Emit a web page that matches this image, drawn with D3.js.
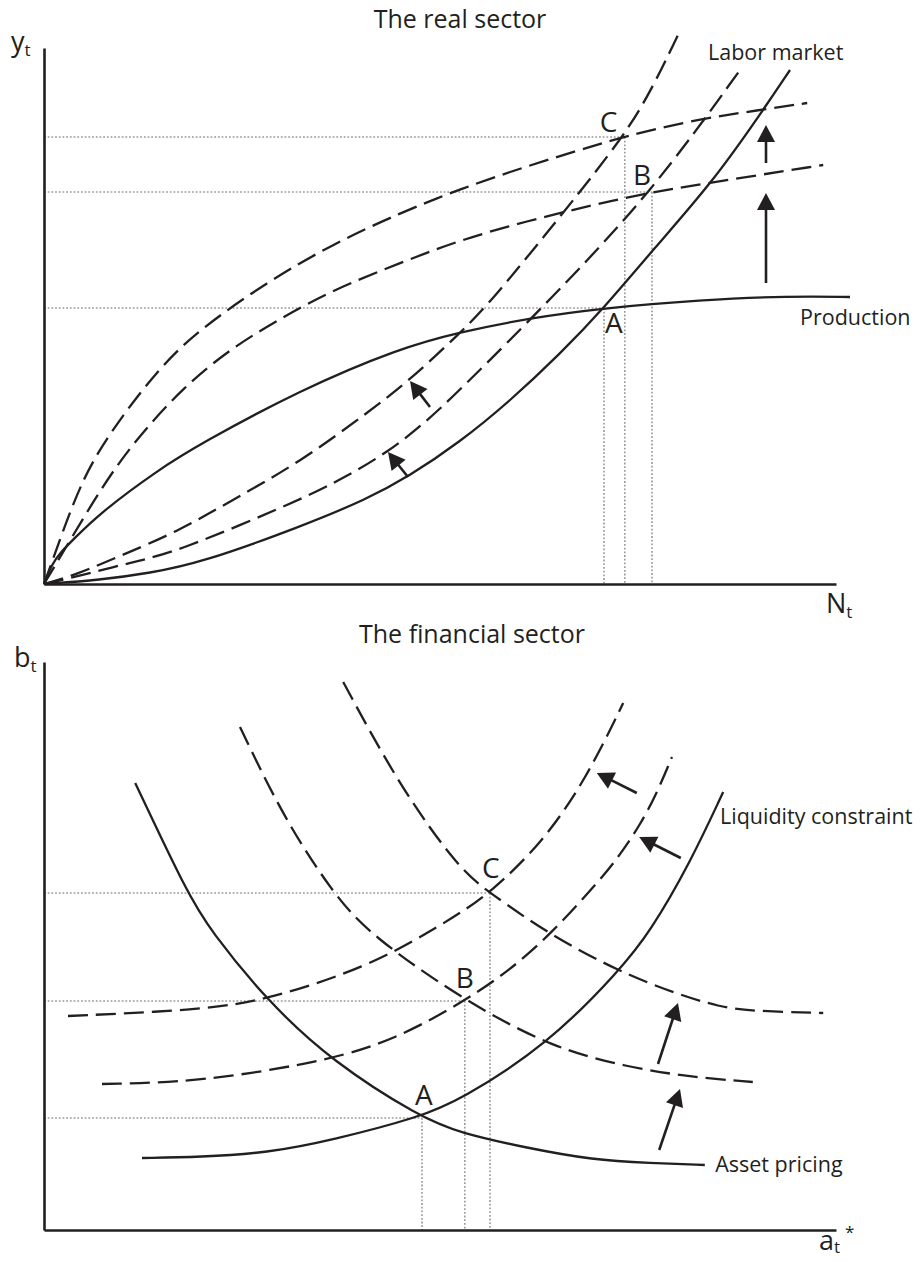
<!DOCTYPE html>
<html><head><meta charset="utf-8">
<script src="https://cdn.jsdelivr.net/npm/d3@7"></script>
<style>body{margin:0;background:#fff}svg{display:block}</style>
</head><body><svg id="c" width="923" height="1262"></svg>
<script>
// ---------- Real sector (N_t, y_t) ----------
const realTitle = "The real sector";
const productionSolid = [[0,0],[1,5],[2,7.75],[3.6,11],[7,17.75],[14.25,28.5],[19.5,35],[32,48.5],[44.5,59],[52,63],[60.75,66.5],[70,69],[82,71],[93.25,72],[100.75,71.75]];
const productionB = [[0,0],[2.4,8],[7,23.5],[11.1,35.25],[17.4,49.25],[23.6,59.25],[29.9,66.75],[36.1,73.5],[44.5,80.25],[52,86],[60.4,90.75],[68.6,94.75],[76,98],[85.4,101],[97.4,104.75]];
const productionC = [[0,0],[1.4,7.75],[4.9,27.25],[9.1,40.25],[14.5,54.25],[19.5,63.75],[27.9,75.5],[36.1,85],[44.5,92.75],[52,98.75],[60.4,104.5],[68.6,109.5],[72.4,111.75],[81.1,116],[89.5,118.5],[95.4,120.25]];
const laborSolid = [[0,0],[7,1],[13.25,2.75],[19.5,5.25],[32,14.25],[40.4,21.25],[45.5,26.75],[52,35.5],[58.25,45.75],[64.5,57.5],[70,69],[76.1,83.5],[83.6,100.5],[89.9,118.5],[93.25,128.5]];
const laborB = [[0,0],[3.9,1.75],[11.1,5.5],[16.6,8],[32,21],[37.5,26.5],[43,33],[47.6,40.25],[52,48.5],[63.25,71],[76,98],[87,128.5]];
const laborC = [[0,0],[3.9,2.25],[9.5,7],[16.6,13],[23.6,21],[32,30.5],[40.4,42.75],[45.75,51],[52,62.75],[55.75,70.25],[65.4,94],[72.4,111.75],[75.75,122.75],[79.25,137.25]];
const realEqLabels = ["A","B","C"];
const realEqN = [70, 76, 72.6];
const realEqY = [69, 98, 111.75];
const realArrows = [[[45.5,26.75],[43,33]], [[48.25,44.25],[45.75,50.75]], [[90.25,75.25],[90.25,97.75]], [[90.25,105.25],[90.25,114.75]]];
const realCurveLabels = ["Labor market","Production"];
const realCurveLabelPos = [[83,131],[94.5,64.75]];

// ---------- Financial sector (a_t*, b_t) ----------
const finTitle = "The financial sector";
const assetSolid = [[11.4,111.75],[17.9,84.25],[20.75,75],[27.9,57.25],[36.1,42],[47,28.25],[52,24.25],[60.4,20.5],[68.6,17.5],[75.75,16.75],[82.6,16.25]];
const assetB = [[24.5,125.75],[29.9,103.25],[36.1,84.25],[40.75,73.75],[52.6,57.25],[63.6,45.5],[72.9,40.75],[80.75,38.25],[88.6,37]];
const assetC = [[37.4,137],[44.5,110.75],[52,90],[55.75,84.25],[63.25,73.75],[72,64.5],[79.1,59],[84.5,55.75],[88.25,54.75],[97.4,54.25]];
const liquiditySolid = [[12.25,18],[19.5,18.25],[27.9,19.25],[36.1,22.5],[47,28.25],[52,32.5],[62.9,46.25],[72,65],[75.75,74.5],[80.75,91.75],[84.9,109.5]];
const liquidityB = [[7.25,36.5],[19.5,37],[36.1,42.5],[44.5,48.25],[52.6,57.25],[58.25,65],[63.25,73.75],[69.5,87.5],[72,93.75],[74.5,101.25],[76.5,108.75],[78.5,118.25]];
const liquidityC = [[3,53.5],[19.5,55],[27.9,57.5],[40.4,65.75],[48.6,75],[52,79.25],[55.75,84.25],[62.4,97],[67.9,113.25],[72.4,131.75]];
const finEqLabels = ["A","B","C"];
const finEqA = [47.25, 52.6, 55.75];
const finEqB = [28, 57.25, 84.25];
const finArrows = [[[74.1,109.25],[69.1,114.25]], [[79.6,93],[74.4,98.25]], [[76.75,41.5],[79.25,56.75]], [[76.9,20],[79.5,35.25]]];
const finCurveLabels = ["Liquidity constraint","Asset pricing"];
const finCurveLabelPos = [[84.5,101.5],[83.9,14.5]];

// ---------- drawing ----------
const INK = "#231f20";
const FONT = "'Open Sans', sans-serif";
const svg = d3.select("#c");
svg.append("rect").attr("width",923).attr("height",1262).attr("fill","#fff");

function panel(o){
  const x = d3.scaleLinear().domain([0,99]).range([44,836]);
  const y = d3.scaleLinear().domain([0,o.yMax]).range([o.y0, o.y0 - 4*o.yMax]);
  const g = svg.append("g");
  const line = d3.line().x(d=>x(d[0])).y(d=>y(d[1])).curve(d3.curveBasis);

  // dotted guides
  o.eqX.forEach((ex,i)=>{
    const ey = o.eqY[i];
    g.append("line").attr("x1",x(0)).attr("x2",x(ex)).attr("y1",y(ey)).attr("y2",y(ey));
    g.append("line").attr("x1",x(ex)).attr("x2",x(ex)).attr("y1",y(ey)).attr("y2",y(0));
  });
  g.selectAll("line").attr("stroke","#9a9a9a").attr("stroke-width",1.6).attr("stroke-dasharray","1.8,1.9");

  // curves
  o.curves.forEach(c=>{
    g.append("path").attr("d",line(c.data)).attr("fill","none").attr("stroke",INK)
      .attr("stroke-width",2.3).attr("stroke-dasharray",c.dashed?"20,8":null);
  });

  // arrows
  o.arrows.forEach(a=>{
    const x1=x(a[0][0]), y1=y(a[0][1]), x2=x(a[1][0]), y2=y(a[1][1]);
    const ang=Math.atan2(y2-y1,x2-x1), L=17, Wd=9;
    const bx=x2-L*Math.cos(ang), by=y2-L*Math.sin(ang);
    g.append("line").attr("x1",x1).attr("y1",y1).attr("x2",bx+2*Math.cos(ang)).attr("y2",by+2*Math.sin(ang))
      .attr("stroke",INK).attr("stroke-width",2.6);
    const p=[[x2,y2],[bx+Wd*Math.sin(ang),by-Wd*Math.cos(ang)],[bx-Wd*Math.sin(ang),by+Wd*Math.cos(ang)]];
    g.append("path").attr("d","M"+p.map(q=>q.join(",")).join("L")+"Z").attr("fill",INK);
  });

  // axes
  const ax = g.append("g").attr("transform",`translate(0,${y(0)})`).call(d3.axisBottom(x).tickValues([]).tickSizeOuter(0));
  const ay = g.append("g").attr("transform",`translate(${x(0)},0)`).call(d3.axisLeft(y).tickValues([]).tickSizeOuter(0));
  [ax,ay].forEach(a=>a.select(".domain").attr("stroke",INK).attr("stroke-width",2.6));

  // equilibrium letters
  o.eqLabels.forEach((t,i)=>{
    g.append("text").attr("x",x(o.eqX[i])+o.eqOff[i][0]).attr("y",y(o.eqY[i])+o.eqOff[i][1])
      .text(t).attr("font-size",28);
  });
  // curve labels
  o.curveLabels.forEach((t,i)=>{
    g.append("text").attr("x",x(o.curveLabelPos[i][0])).attr("y",y(o.curveLabelPos[i][1])).text(t).attr("font-size",21.5);
  });
  // title
  g.append("text").attr("x",o.titlePos[0]).attr("y",o.titlePos[1]).attr("text-anchor","middle").attr("font-size",25).text(o.title);
  // axis labels
  o.axisLabels.forEach(a=>{
    const t=g.append("text").attr("x",a.pos[0]).attr("y",a.pos[1]).attr("font-size",27);
    t.append("tspan").text(a.main);
    t.append("tspan").attr("font-size",17).attr("dy",a.sub).text("t");
    if(a.sup) g.append("text").attr("x",a.sup[0]).attr("y",a.sup[1]).attr("font-size",17).text("*");
  });
  g.selectAll("text").attr("fill",INK).attr("font-family",FONT);
}

panel({
  y0:584, yMax:134, title:realTitle, titlePos:[460,28],
  curves:[{data:productionSolid},{data:productionB,dashed:true},{data:productionC,dashed:true},
          {data:laborSolid},{data:laborB,dashed:true},{data:laborC,dashed:true}],
  eqLabels:realEqLabels, eqX:realEqN, eqY:realEqY, eqOff:[[1,25],[-19,-7],[-25,-5]],
  arrows:realArrows, curveLabels:realCurveLabels, curveLabelPos:realCurveLabelPos,
  axisLabels:[{main:"y",pos:[11,51],sub:5},{main:"N",pos:[826,613],sub:5}]
});
panel({
  y0:1230, yMax:142, title:finTitle, titlePos:[472,643],
  curves:[{data:assetSolid},{data:assetB,dashed:true},{data:assetC,dashed:true},
          {data:liquiditySolid},{data:liquidityB,dashed:true},{data:liquidityC,dashed:true}],
  eqLabels:finEqLabels, eqX:finEqA, eqY:finEqB, eqOff:[[-7,-13],[-9,-13],[-8,-15]],
  arrows:finArrows, curveLabels:finCurveLabels, curveLabelPos:finCurveLabelPos,
  axisLabels:[{main:"b",pos:[14,667],sub:5},{main:"a",pos:[819,1250],sub:3,sup:[845,1238]}]
});
</script></body></html>
